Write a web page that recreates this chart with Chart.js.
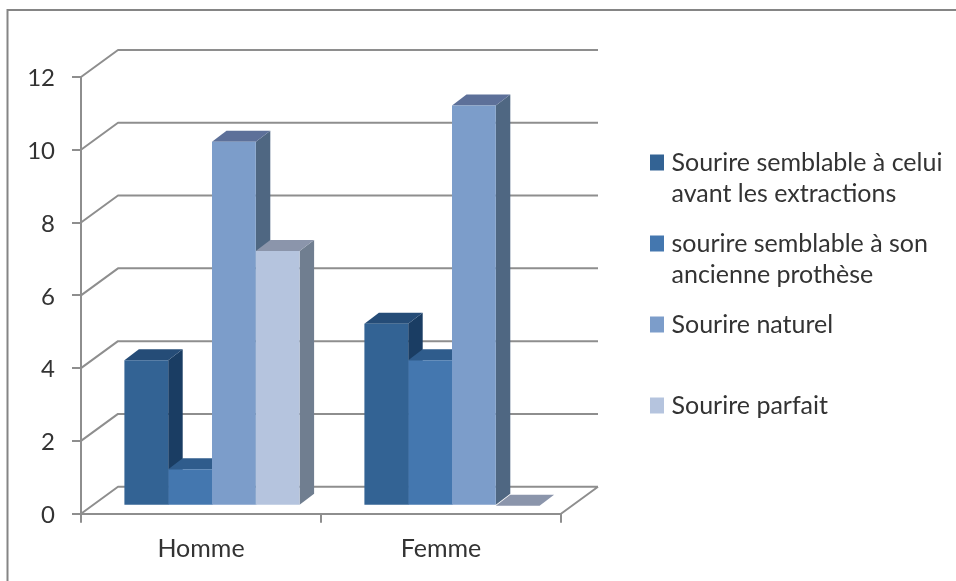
<!DOCTYPE html>
<html lang="fr">
<head>
<meta charset="utf-8">
<style>
html,body{margin:0;padding:0;background:#fff;overflow:hidden}
canvas{display:block;filter:blur(0.45px)}
</style>
<script src="https://cdn.jsdelivr.net/npm/chart.js@4"></script>
</head>
<body>
<canvas id="c" width="956" height="581"></canvas>
<script>
const categories = ['Homme', 'Femme'];
const sourireAvant = [4, 5];
const sourireProthese = [1, 4];
const sourireNaturel = [10, 11];
const sourireParfait = [7, 0];
const labelAvant = ['Sourire semblable à celui', 'avant les extractions'];
const labelProthese = ['sourire semblable à son', 'ancienne prothèse'];
const labelNaturel = ['Sourire naturel', ''];
const labelParfait = ['Sourire parfait', ''];

const frontColors = ['#336394', '#4477AF', '#7C9DCA', '#B5C4DE'];
const topColors = ['#254C77', '#2F5C8C', '#5D7099', '#8B95AB'];
const sideColors = ['#1A3D63', '#2A5180', '#4F6782', '#707E90'];

const GRID = '#8e8e8e';
const TEXT = '#333333';
const FONT = 'Lato, Carlito, sans-serif';
const WALL = {dx: 37, dy: -27};      // offset of the back wall from the front axes
const BAR_SHIFT = {dx: 11, dy: -8};  // offset of the bar fronts from the front axes
const BAR_DEPTH = {dx: 14.5, dy: -11};

const scene3d = {
  id: 'scene3d',
  beforeDraw(chart) {
    const ctx = chart.ctx;
    ctx.save();
    ctx.strokeStyle = '#858585';
    ctx.lineWidth = 2;
    ctx.beginPath();
    ctx.moveTo(7.5, chart.height);
    ctx.lineTo(7.5, 10);
    ctx.lineTo(chart.width, 10);
    ctx.stroke();
    ctx.restore();
  },
  afterLayout(chart) {
    const lg = chart.legend;
    lg.left = 636; lg.right = 956; lg.top = 131; lg.bottom = 560;
  },
  beforeDatasetsDraw(chart) {
    const ctx = chart.ctx;
    const {x, y} = chart.scales;
    ctx.save();
    ctx.strokeStyle = GRID;
    ctx.lineWidth = 2;
    ctx.lineJoin = 'round';
    ctx.beginPath();
    y.ticks.forEach(t => {
      const py = y.getPixelForValue(t.value);
      ctx.moveTo(x.left, py);
      ctx.lineTo(x.left + WALL.dx, py + WALL.dy);
      ctx.lineTo(x.right + WALL.dx, py + WALL.dy);
    });
    const base = y.getPixelForValue(0);
    ctx.moveTo(x.right, base);
    ctx.lineTo(x.right + WALL.dx, base + WALL.dy);
    ctx.stroke();

    // top and side faces of each bar, fronts come from the library on top
    ctx.translate(BAR_SHIFT.dx, BAR_SHIFT.dy);
    const d = BAR_DEPTH;
    chart.data.datasets.forEach((ds, i) => {
      chart.getDatasetMeta(i).data.forEach(bar => {
        const p = bar.getProps(['x', 'y', 'base', 'width'], true);
        const l = p.x - p.width / 2, r = p.x + p.width / 2;
        ctx.fillStyle = sideColors[i];
        ctx.beginPath();
        ctx.moveTo(r, p.y);
        ctx.lineTo(r + d.dx, p.y + d.dy);
        ctx.lineTo(r + d.dx, p.base + d.dy);
        ctx.lineTo(r, p.base);
        ctx.closePath();
        ctx.fill();
        ctx.fillStyle = topColors[i];
        ctx.beginPath();
        ctx.moveTo(l, p.y);
        ctx.lineTo(l + d.dx, p.y + d.dy);
        ctx.lineTo(r + d.dx, p.y + d.dy);
        ctx.lineTo(r, p.y);
        ctx.closePath();
        ctx.fill();
      });
    });
  },
  afterDatasetsDraw(chart) {
    chart.ctx.restore();
  }
};

new Chart(document.getElementById('c'), {
  type: 'bar',
  data: {
    labels: categories,
    datasets: [
      {label: labelAvant, data: sourireAvant, backgroundColor: frontColors[0]},
      {label: labelProthese, data: sourireProthese, backgroundColor: frontColors[1]},
      {label: labelNaturel, data: sourireNaturel, backgroundColor: frontColors[2]},
      {label: labelParfait, data: sourireParfait, backgroundColor: frontColors[3]}
    ]
  },
  options: {
    responsive: false,
    animation: false,
    clip: false,
    barPercentage: 1,
    categoryPercentage: 0.73,
    layout: {padding: {left: 0, top: 77, right: 395, bottom: 0}},
    plugins: {
      tooltip: {enabled: false},
      legend: {
        position: 'chartArea',
        align: 'start',
        labels: {
          boxWidth: 4,
          boxHeight: 6,
          padding: 19,
          color: TEXT,
          font: {family: FONT, size: 25, lineHeight: 1.24},
          generateLabels(chart) {
            return Chart.defaults.plugins.legend.labels.generateLabels(chart)
              .map(it => ({...it, lineWidth: 10, strokeStyle: it.fillStyle}));
          }
        }
      }
    },
    scales: {
      x: {
        afterFit(s) { s.height = 67.3; },
        grid: {drawOnChartArea: false, color: GRID, lineWidth: 2, tickLength: 9},
        border: {color: GRID, width: 2},
        ticks: {color: TEXT, padding: 11, font: {family: FONT, size: 25}}
      },
      y: {
        min: 0,
        max: 12,
        afterFit(s) { s.width = 81; },
        grid: {drawOnChartArea: false, color: GRID, lineWidth: 2, tickLength: 9},
        border: {color: GRID, width: 2},
        ticks: {stepSize: 2, color: TEXT, padding: 17, labelOffset: 1.5, font: {family: FONT, size: 24}}
      }
    }
  },
  plugins: [scene3d]
});
</script>
</body>
</html>
